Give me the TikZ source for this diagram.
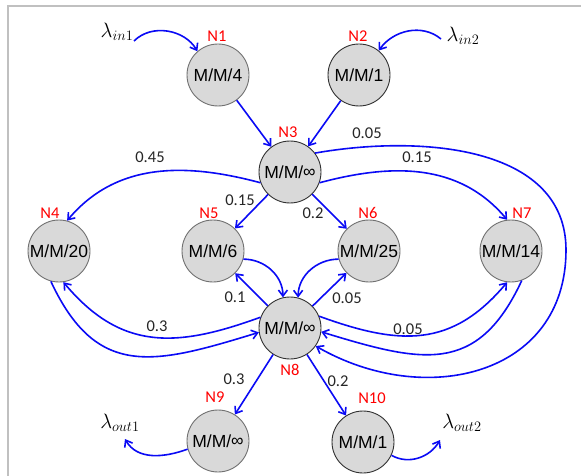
\documentclass[tikz,border=0pt]{standalone}
\usepackage{fontspec}
\setmainfont{Carlito}
\newfontfamily\arialf{Liberation Sans}
\usetikzlibrary{arrows.meta}
\definecolor{qfill}{HTML}{D9D9D9}
\definecolor{qblue}{HTML}{0A0AF5}
\definecolor{qframe}{HTML}{C0C0C0}
\definecolor{bordlight}{HTML}{707070}
\definecolor{borddark}{HTML}{303030}
\definecolor{lbltext}{HTML}{262626}
\begin{document}
\begin{tikzpicture}[x=1pt,y=1pt,
  qnode/.style={circle, draw=#1, fill=qfill, line width=0.9pt, minimum size=62pt, inner sep=0pt,
    font=\arialf\fontsize{17.5}{20}\selectfont},
  qnode/.default=bordlight,
  nlabel/.style={text=red, font=\fontsize{16.5}{19}\selectfont, inner sep=0pt},
  elabel/.style={text=lbltext, font=\fontsize{16.5}{19}\selectfont, inner sep=0pt},
  lam/.style={font=\fontsize{20}{24}\selectfont, inner sep=0pt},
  arr/.style={draw=qblue, line width=1.6pt, -{Straight Barb[length=6pt,width=9pt]}},
  frameline/.style={draw=qframe, line width=2pt}
]
\useasboundingbox (0,0) rectangle (581,-476);
\fill[white] (0,0) rectangle (581,-476);
\draw[frameline] (8,-476) -- (8,-6) -- (581,-6);

% queue nodes
\node[qnode] (N1) at (218,-75) {M/M/4};
\node[qnode=borddark] (N2) at (359,-75) {M/M/1};
\node[qnode=borddark] (N3) at (290,-172) {M/M/\raisebox{0.5pt}{∞}};
\node[qnode] (N4) at (59,-251) {M/M/20};
\node[qnode] (N5) at (213,-251) {M/M/6};
\node[qnode] (N6) at (369,-251) {M/M/25};
\node[qnode] (N7) at (511,-251) {M/M/14};
\node[qnode=borddark] (N8) at (290,-328) {M/M/\raisebox{0.5pt}{∞}};
\node[qnode] (N9) at (218,-441) {M/M/\raisebox{0.5pt}{∞}};
\node[qnode=borddark] (N10) at (363,-442) {M/M/1};

% node names
\node[nlabel] (L1) at (217,-36) {N1};
\node[nlabel] (L2) at (358,-36) {N2};
\node[nlabel] (L3) at (288,-132) {N3};
\node[nlabel] (L4) at (50,-213) {N4};
\node[nlabel] (L5) at (209,-213) {N5};
\node[nlabel] (L6) at (368,-213) {N6};
\node[nlabel] (L7) at (522,-213) {N7};
\node[nlabel] (L8) at (290,-370) {N8};
\node[nlabel] (L9) at (215,-397) {N9};
\node[nlabel] (L10) at (372,-398) {N10};

% lambdas
\node[lam] (lin1) at (117,-32) {$\lambda_{in1}$};
\node[lam] (lin2) at (463,-36) {$\lambda_{in2}$};
\node[lam] (lout1) at (120,-423) {$\lambda_{out1}$};
\node[lam] (lout2) at (462,-423) {$\lambda_{out2}$};

\coordinate (i1) at (134,-41);
\coordinate (i2) at (441,-39);
\coordinate (o1) at (125,-439);
\coordinate (o2) at (440,-440);
\coordinate (lp) at (566,-250);

% edge labels
\node[elabel] (e1) at (367,-133) {0.05};
\node[elabel] (e2) at (150,-157) {0.45};
\node[elabel] (e3) at (417,-157) {0.15};
\node[elabel] (e4) at (240,-200) {0.15};
\node[elabel] (e5) at (313,-213) {0.2};
\node[elabel] (e6) at (235,-297) {0.1};
\node[elabel] (e7) at (347,-298) {0.05};
\node[elabel] (e8) at (157,-326) {0.3};
\node[elabel] (e9) at (408,-329) {0.05};
\node[elabel] (e10) at (234,-379) {0.3};
\node[elabel] (e11) at (338,-381) {0.2};

% connectors
\draw[arr] (i1) to[out=45,in=120] (N1.131);
\draw[arr] (i2) to[out=140,in=55] (N2.51);
\draw[arr] (N1) -- (N3);
\draw[arr] (N2) -- (N3);
\draw[arr] (N3.200) to[out=165,in=50] (N4.75);
\draw[arr] (N3.-20) to[out=15,in=130] (N7.97);
\draw[arr, -] (N3.37) to[out=10,in=90] (lp);
\draw[arr] (lp) to[out=-90,in=-30,looseness=1.2] (N8.-35);
\draw[arr] (N3) -- (N5);
\draw[arr] (N3) -- (N6);
\draw[arr] (N5.-15) to[out=0,in=90] (N8.103);
\draw[arr] (N6.195) to[out=180,in=90] (N8.75);
\draw[arr] (N8) -- (N5);
\draw[arr] (N8) -- (N6);
\draw[arr] (N8.160) to[out=200,in=-50,looseness=1.15] (N4.-82);
\draw[arr] (N4.-105) to[out=-65,in=197,looseness=1.3] (N8.188);
\draw[arr] (N8.22) to[out=-20,in=-130,looseness=1.15] (N7.-97);
\draw[arr] (N7.-70) to[out=-115,in=-17,looseness=1.3] (N8.-7);
\draw[arr] (N8) -- (N9);
\draw[arr] (N8) -- (N10);
\draw[arr] (N9.195) to[out=200,in=-60] (o1);
\draw[arr] (N10.-25) to[out=-30,in=-120] (o2);
\end{tikzpicture}
\end{document}
